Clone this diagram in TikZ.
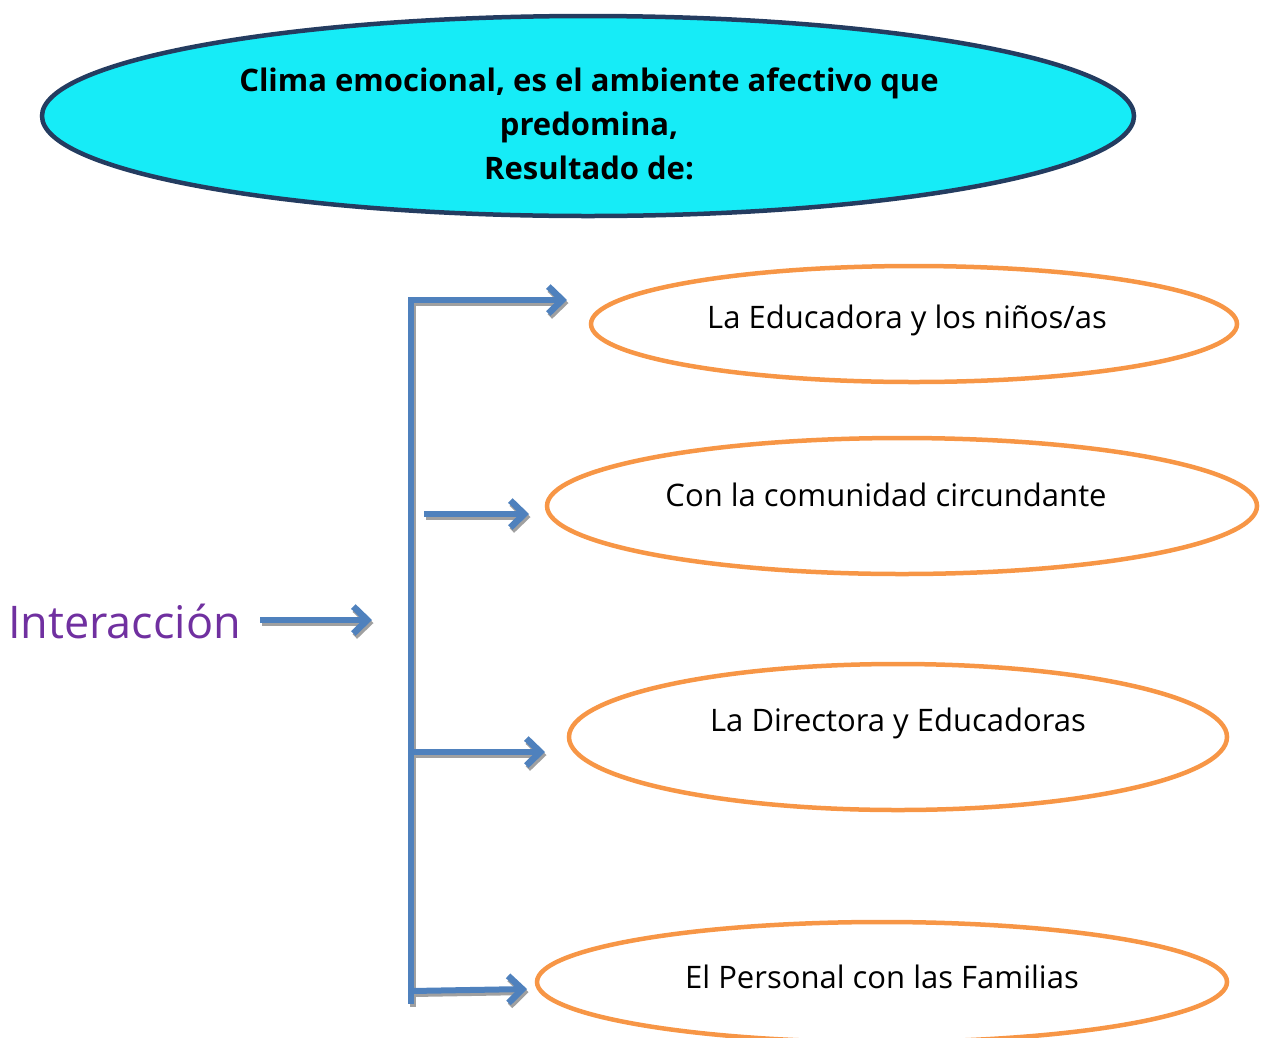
\documentclass[tikz,border=0pt]{standalone}
\usepackage{fontspec}
\setmainfont{Open Sans}
\usetikzlibrary{shapes.geometric,arrows.meta}
\definecolor{cyanfill}{RGB}{22,236,247}
\definecolor{navy}{RGB}{36,60,96}
\definecolor{orng}{RGB}{247,150,70}
\definecolor{blu}{RGB}{79,129,189}
\definecolor{purp}{RGB}{112,48,160}
\definecolor{shad}{RGB}{160,160,160}
\tikzset{
  oval/.style={ellipse, draw=orng, line width=4.5pt, inner sep=0pt},
  lbl/.style={font=\fontsize{31}{36}\selectfont, text=black},
  tipbarb/.style={-{Straight Barb[length=14pt,width=27pt,line width=6.5pt]}},
  barrow/.style={draw=blu, line width=6pt, tipbarb},
  bshadow/.style={draw=shad, line width=6pt, tipbarb},
  bline/.style={draw=blu, line width=6pt},
  blineshadow/.style={draw=shad, line width=6pt},
}
\begin{document}
\begin{tikzpicture}[x=1pt,y=-1pt]
\useasboundingbox (0,0) rectangle (1268,1037);
% title
\node[ellipse, draw=navy, fill=cyanfill, line width=4.5pt, minimum width=1092pt, minimum height=200pt, inner sep=0pt] (title) at (588,116) {};
\node[align=center, font=\bfseries\fontsize{31}{44}\selectfont] (ttext) at (589,124) {Clima emocional, es el ambiente afectivo que\\predomina,\\Resultado de:};
% ovals
\node[oval, minimum width=646pt, minimum height=116pt] (e1) at (914,324) {};
\node[lbl] (t1) at (907,320) {La Educadora y los niños/as};
\node[oval, minimum width=710pt, minimum height=136pt] (e2) at (902,506) {};
\node[lbl] (t2) at (886,495) {Con la comunidad circundante};
\node[oval, minimum width=658pt, minimum height=146pt] (e3) at (898,737) {};
\node[lbl] (t3) at (898,723) {La Directora y Educadoras};
\node[oval, minimum width=690pt, minimum height=120pt] (e4) at (882,982) {};
\node[lbl] (t4) at (882,977) {El Personal con las Familias};
% Interaccion
\node[anchor=west, text=purp, font=\fontsize{45}{52}\selectfont, inner sep=0pt] (inter) at (8,621) {Interacción};
% coordinates
\coordinate (ia) at (260,620);
\coordinate (ib) at (372,620);
\coordinate (vtop) at (411,298);
\coordinate (vbot) at (411,1004);
\coordinate (h1) at (408,300);
\coordinate (s2) at (424,514);
\coordinate (s3) at (411,752);
\coordinate (s4) at (411,991);
\coordinate (a1) at (567,300);
\coordinate (a2) at (529,514);
\coordinate (a3) at (545,752);
\coordinate (a4) at (527,989);
% shadows
\begin{scope}[transform canvas={xshift=1.5pt,yshift=-3pt}]
\draw[blineshadow] (vtop) -- (vbot);
\draw[bshadow] (ia) -- (ib);
\draw[bshadow] (h1) -- (a1);
\draw[bshadow] (s2) -- (a2);
\draw[bshadow] (s3) -- (a3);
\draw[bshadow] (s4) -- (a4);
\end{scope}
% connectors
\draw[bline] (vtop) -- (vbot);
\draw[barrow] (ia) -- (ib);
\draw[barrow] (h1) -- (a1);
\draw[barrow] (s2) -- (a2);
\draw[barrow] (s3) -- (a3);
\draw[barrow] (s4) -- (a4);
\end{tikzpicture}
\end{document}
